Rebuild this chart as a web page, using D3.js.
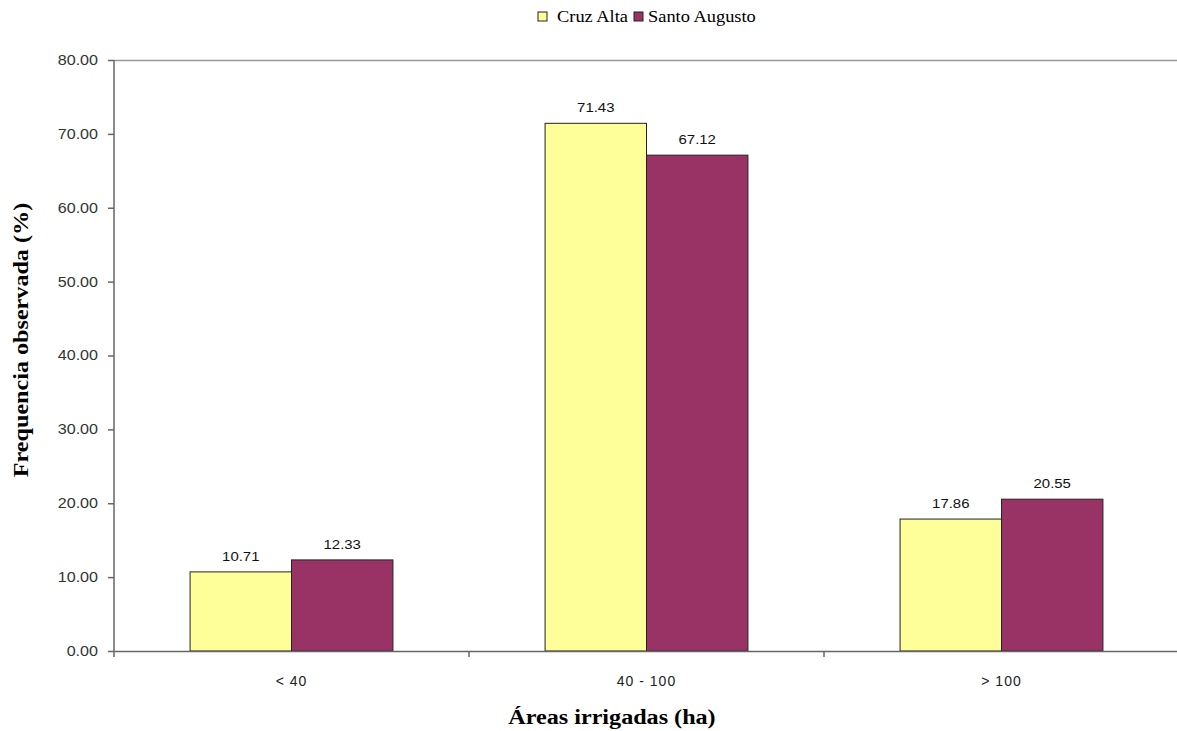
<!DOCTYPE html>
<html>
<head>
<meta charset="utf-8">
<script src="https://cdn.jsdelivr.net/npm/d3@7"></script>
<style>
  html, body { margin: 0; padding: 0; background: #fff; }
  svg { display: block; }
</style>
</head>
<body>
<svg id="chart" width="1177" height="731"></svg>
<script>
// Frequency of irrigated area classes per municipality
const categories = ["< 40", "40 - 100", "> 100"];
const seriesNames = ["Cruz Alta", "Santo Augusto"];
const cruzAlta = [10.71, 71.43, 17.86];
const santoAugusto = [12.33, 67.12, 20.55];
const yTicks = [0, 10, 20, 30, 40, 50, 60, 70, 80];
const colors = ["#FFFF99", "#993366"];

const svg = d3.select("#chart");
const plotLeft = 114, plotRight = 1179, plotTop = 60, plotBottom = 651;
const sans = "Liberation Sans, Arial, sans-serif";
const serif = "Liberation Serif, Times New Roman, serif";
const stretch = 1.15; // horizontal widening of glyphs

const x = d3.scaleBand().domain(categories).range([plotLeft, plotRight]).paddingInner(0).paddingOuter(0);
const inner = d3.scaleBand().domain(seriesNames).range([0, x.bandwidth()]).paddingInner(0).paddingOuter(0.75);
const y = d3.scaleLinear().domain([0, 80]).range([plotBottom, plotTop]);

// top frame line
svg.append("line")
  .attr("x1", plotLeft).attr("x2", plotRight).attr("y1", plotTop + 0.5).attr("y2", plotTop + 0.5)
  .attr("stroke", "#999").attr("stroke-width", 1.5);

// bars
const series = [cruzAlta, santoAugusto];
const rows = [];
categories.forEach((c, i) => {
  seriesNames.forEach((s, j) => rows.push({ cat: c, s, v: series[j][i], color: colors[j] }));
});

const g = svg.append("g");
g.selectAll("rect").data(rows).join("rect")
  .attr("x", d => x(d.cat) + inner(d.s))
  .attr("y", d => y(d.v))
  .attr("width", inner.bandwidth())
  .attr("height", d => y(0) - y(d.v))
  .attr("fill", d => d.color)
  .attr("stroke", "#222")
  .attr("stroke-width", 1);

g.selectAll("text.val").data(rows).join("text")
  .attr("class", "val")
  .attr("transform", d => `translate(${x(d.cat) + inner(d.s) + inner.bandwidth() / 2},${y(d.v) - 11}) scale(${stretch},1)`)
  .attr("text-anchor", "middle")
  .attr("font-family", sans)
  .attr("font-size", 13)
  .attr("fill", "#111")
  .text(d => d.v.toFixed(2));

// y axis
const yAxis = d3.axisLeft(y).tickValues(yTicks).tickFormat(d3.format(".2f")).tickSize(6).tickPadding(0);
const ya = svg.append("g").attr("transform", `translate(${plotLeft},0)`).call(yAxis);
ya.select(".domain").attr("stroke", "#666").attr("stroke-width", 1.5).attr("d", `M-0,${plotBottom}V${plotTop}`);
ya.selectAll(".tick line").attr("stroke", "#666").attr("stroke-width", 1.5);
ya.selectAll(".tick text")
  .attr("x", null)
  .attr("transform", `translate(-16,0) scale(${stretch},1)`)
  .attr("font-family", sans)
  .attr("font-size", 14).attr("fill", "#333");

// x axis
const xa = svg.append("g").attr("transform", `translate(0,${plotBottom})`)
  .call(d3.axisBottom(x).tickSize(0).tickPadding(25));
xa.select(".domain").attr("stroke", "#666").attr("stroke-width", 1.5);
xa.selectAll(".tick text")
  .attr("font-family", sans)
  .attr("font-size", 14).attr("letter-spacing", 1).attr("fill", "#222");
// category separator ticks
const seps = categories.map(c => x(c)).concat([plotRight]);
xa.selectAll("line.sep").data(seps).join("line")
  .attr("class", "sep")
  .attr("x1", d => d).attr("x2", d => d)
  .attr("y1", 0).attr("y2", 6)
  .attr("stroke", "#666").attr("stroke-width", 1.5);

// axis titles
svg.append("text")
  .attr("transform", `translate(612,724) scale(${stretch},1)`)
  .attr("text-anchor", "middle")
  .attr("font-family", serif)
  .attr("font-weight", "bold").attr("font-size", 21)
  .attr("fill", "#000")
  .text("Áreas irrigadas (ha)");

svg.append("text")
  .attr("transform", `translate(28,340) rotate(-90) scale(${stretch},1)`)
  .attr("text-anchor", "middle")
  .attr("font-family", serif)
  .attr("font-weight", "bold").attr("font-size", 21)
  .attr("fill", "#000")
  .text("Frequencia observada (%)");

// legend
const legendBox = [538, 634];
const legendText = [557, 648];
const lg = svg.append("g");
seriesNames.forEach((s, j) => {
  lg.append("rect")
    .attr("x", legendBox[j]).attr("y", 12)
    .attr("width", 9).attr("height", 9)
    .attr("fill", colors[j]).attr("stroke", "#222").attr("stroke-width", 1);
  lg.append("text")
    .attr("transform", `translate(${legendText[j]},22) scale(${stretch},1)`)
    .attr("font-family", serif)
    .attr("font-size", 16)
    .attr("fill", "#000")
    .text(s);
});
</script>
</body>
</html>
